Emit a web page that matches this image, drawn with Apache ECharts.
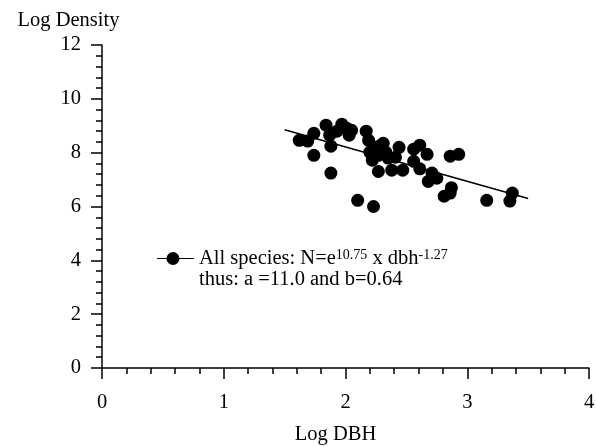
<!DOCTYPE html>
<html>
<head>
<meta charset="utf-8">
<script src="https://cdn.jsdelivr.net/npm/echarts@6/dist/echarts.min.js"></script>
<style>
  html, body { margin: 0; padding: 0; background: #fff; }
  #chart { width: 596px; height: 447px; }
</style>
</head>
<body>
<div id="chart"></div>
<script>
    // log DBH / log density of all species
    var logDbh = [1.62, 1.69, 1.74, 1.74, 1.84, 1.87, 1.88, 1.88, 1.93, 1.97,
                  2.01, 2.03, 2.05, 2.10, 2.17, 2.19, 2.20, 2.22, 2.23, 2.24,
                  2.27, 2.29, 2.31, 2.33, 2.27, 2.35, 2.38, 2.41, 2.44, 2.47,
                  2.56, 2.56, 2.61, 2.61, 2.67, 2.68, 2.71, 2.75, 2.81, 2.86,
                  2.87, 2.86, 2.93, 3.16, 3.37, 3.35];
    var logDensity = [8.46, 8.43, 8.72, 7.90, 9.02, 8.65, 8.24, 7.24, 8.80, 9.06,
                      8.91, 8.65, 8.83, 6.23, 8.80, 8.46, 8.02, 7.72, 6.00, 8.20,
                      7.90, 8.28, 8.35, 8.02, 7.30, 7.80, 7.35, 7.83, 8.20, 7.35,
                      7.68, 8.13, 8.28, 7.40, 7.94, 6.93, 7.24, 7.05, 6.38, 6.50,
                      6.70, 7.87, 7.94, 6.23, 6.50, 6.20];

    // fitted line N = e^10.75 x dbh^-1.27
    var fitX = [1.5, 3.5];
    var fitY = [8.85, 6.30];

    var xTicks = [0, 1, 2, 3, 4];
    var yTicks = [0, 2, 4, 6, 8, 10, 12];

    var serif = "'Liberation Serif', 'Times New Roman', serif";
    var fs = 20.5;

    var points = [];
    for (var i = 0; i < logDbh.length; i++) {
        points.push([logDbh[i], logDensity[i]]);
    }
    var fitLine = [];
    for (var j = 0; j < fitX.length; j++) {
        fitLine.push([fitX[j], fitY[j]]);
    }

    var chart = echarts.init(document.getElementById('chart'));

    var axisCommon = {
        axisLine: { lineStyle: { color: '#000', width: 1.5 } },
        axisTick: { length: 11, lineStyle: { color: '#000', width: 1.5 } },
        minorTick: { show: true, splitNumber: 5, length: 6, lineStyle: { color: '#000', width: 1.5 } },
        splitLine: { show: false },
        minorSplitLine: { show: false }
    };

    var option = {
        animation: false,
        backgroundColor: '#fff',
        grid: { left: 102, right: 7, top: 45, bottom: 79, outerBoundsMode: 'none' },
        legend: {
            left: 157,
            top: 248,
            padding: 0,
            itemWidth: 37,
            itemHeight: 13,
            data: [{
                name: 'All species',
                icon: 'path://M0,5.9 L9.5,5.9 L9.5,7.1 L0,7.1 Z M22.5,5.9 L37,5.9 L37,7.1 L22.5,7.1 Z M9.5,6.5 A6.5,6.5 0 1,0 22.5,6.5 A6.5,6.5 0 1,0 9.5,6.5 Z'
            }],
            formatter: function () {
                return '{t|All species: N=e}{s|10.75}{t| x dbh}{s|-1.27}';
            },
            textStyle: {
                color: '#000',
                fontFamily: serif,
                fontSize: fs,
                rich: {
                    t: { fontFamily: serif, fontSize: fs, color: '#000', lineHeight: 21, verticalAlign: 'bottom' },
                    s: { fontFamily: serif, fontSize: 14, color: '#000', lineHeight: 14, verticalAlign: 'top' }
                }
            }
        },
        graphic: [{
            type: 'text',
            left: 199,
            top: 269,
            style: {
                text: 'thus: a =11.0 and b=0.64',
                font: fs + 'px ' + serif,
                fill: '#000'
            }
        }],
        xAxis: Object.assign({
            type: 'value',
            min: 0,
            max: 4,
            interval: 1,
            name: 'Log DBH',
            nameLocation: 'middle',
            nameGap: 56,
            nameTextStyle: { color: '#000', fontFamily: serif, fontSize: fs, padding: [0, 20, 0, 0] },
            axisLabel: {
                color: '#000', fontFamily: serif, fontSize: fs, margin: 24,
                formatter: function (v) { return xTicks.indexOf(v) >= 0 ? String(v) : ''; }
            }
        }, axisCommon),
        yAxis: Object.assign({
            type: 'value',
            min: 0,
            max: 12,
            interval: 2,
            name: 'Log Density',
            nameLocation: 'end',
            nameGap: 24,
            nameTextStyle: { color: '#000', fontFamily: serif, fontSize: fs, padding: [0, 67, 0, 0], verticalAlign: 'middle' },
            axisLabel: {
                color: '#000', fontFamily: serif, fontSize: fs, margin: 21,
                formatter: function (v) { return yTicks.indexOf(v) >= 0 ? String(v) : ''; }
            }
        }, axisCommon),
        series: [
            {
                name: 'All species',
                type: 'scatter',
                symbol: 'circle',
                symbolSize: 13,
                itemStyle: { color: '#000', opacity: 1 },
                data: points
            },
            {
                name: 'fit',
                type: 'line',
                symbol: 'none',
                lineStyle: { color: '#000', width: 1.6 },
                data: fitLine
            }
        ]
    };

    chart.setOption(option);
</script>
</body>
</html>
